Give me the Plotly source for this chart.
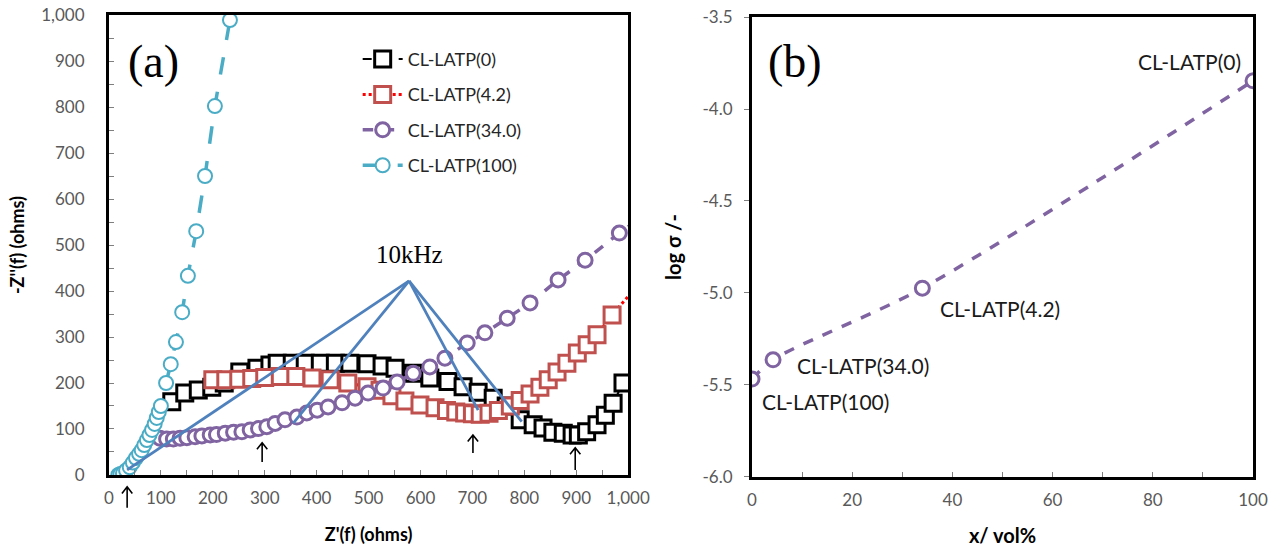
import plotly.graph_objects as go

# ---- (a) Nyquist plots: Z'(f) vs -Z''(f), ohms ----
z0_re = [121, 146, 172, 198, 222, 252, 285, 310, 324, 353, 378, 407, 436, 464, 497, 526,
         551, 586, 618, 653, 682, 711, 740, 765, 792, 817, 836, 855, 875, 892, 904, 920,
         940, 956, 971, 990]
z0_im = [159, 178, 185, 191, 200, 224, 232, 239, 243, 243, 243, 243, 243, 243, 242, 237,
         232, 221, 211, 203, 192, 180, 167, 150, 120, 109, 102, 93, 91, 87, 87, 94,
         109, 130, 156, 200]

z42_re = [200, 225, 250, 275, 300, 330, 360, 391, 426, 460, 497, 522, 545, 570, 599, 628,
          650, 668, 685, 700, 715, 732, 750, 773, 792, 811, 830, 846, 863, 882, 902, 921,
          940, 969, 1040]
z42_im = [207, 207, 208, 210, 212, 214, 214, 211, 207, 200, 192, 184, 172, 161, 152, 146,
          140, 137, 135, 133, 132, 134, 140, 150, 162, 176, 191, 207, 224, 243, 265, 283,
          305, 348, 440]

z34_re = [98, 111, 124, 137, 150, 166, 179, 195, 207, 224, 240, 256, 272, 288, 304, 320,
          339, 362, 381, 401, 422, 449, 474, 499, 528, 555, 586, 618, 647, 690, 724, 767,
          811, 865, 917, 983, 1050]
z34_im = [80, 78, 78, 80, 81, 83, 85, 87, 88, 91, 93, 94, 98, 101, 105, 112,
          120, 126, 135, 141, 148, 157, 167, 178, 189, 202, 221, 235, 254, 287, 309, 341,
          374, 424, 467, 526, 580]

z100_re = [18, 22, 27, 33, 40, 46, 52, 58, 63, 68, 73, 78, 83, 88, 92, 96, 100, 110, 119,
           129, 141, 152, 168, 185, 204, 233]
z100_im = [0, 2, 4, 10, 17, 27, 37, 46, 54, 65, 76, 87, 98, 111, 124, 137, 150, 200, 241,
           289, 354, 433, 530, 650, 802, 989]

# 10 kHz guide lines: common apex and the four end points
khz_apex = (578, 422)
khz_ends_re = [35, 355, 711, 795]
khz_ends_im = [11, 113, 141, 116]

# arrows marking characteristic points (Z' position, tip and tail heights)
arrow_re = [295, 701, 898]
arrow_tip = [70, 87, 59]
arrow_tail = [28, 48, 11]
# arrow under the origin sits below the axis, in figure fractions
origin_arrow_re = 35
origin_arrow_tip = 0.118
origin_arrow_tail = 0.080

# ---- (b) conductivity vs LATP content ----
vol_x = [0, 4.2, 34.0, 100]
log_sigma = [-5.468, -5.363, -4.974, -3.847]
point_names = ["CL-LATP(100)", "CL-LATP(34.0)", "CL-LATP(4.2)", "CL-LATP(0)"]

# tick labels
z_ticks = [0, 100, 200, 300, 400, 500, 600, 700, 800, 900, 1000]
vol_ticks = [0, 20, 40, 60, 80, 100]
sigma_ticks = [-6.0, -5.5, -5.0, -4.5, -4.0, -3.5]
sigma_ticktext = ["-6.0", "-5.5", "-5.0", "-4.5", "-4.0", "-3.5"]

BLACK = "#000000"
RED = "#C0504D"
PURPLE = "#8064A2"
CYAN = "#4BACC6"
BLUE = "#4F81BD"
TICK = "#595959"
SANS = "Lato"
SERIF = "Liberation Serif"

fig = go.Figure()

fig.add_trace(go.Scatter(
    x=z0_re, y=z0_im, name="CL-LATP(0)", mode="lines+markers",
    line=dict(color=BLACK, width=2, dash="dash"),
    marker=dict(symbol="square", size=16, color="white", line=dict(color=BLACK, width=3)),
    legendgroup="a", xaxis="x", yaxis="y"))
fig.add_trace(go.Scatter(
    x=z42_re, y=z42_im, name="CL-LATP(4.2)", mode="lines+markers",
    line=dict(color="#FF0000", width=3, dash="dot"),
    marker=dict(symbol="square", size=16, color="white", line=dict(color=RED, width=3)),
    legendgroup="b", xaxis="x", yaxis="y"))
fig.add_trace(go.Scatter(
    x=z34_re, y=z34_im, name="CL-LATP(34.0)", mode="lines+markers",
    line=dict(color=PURPLE, width=3.5, dash="dash"),
    marker=dict(symbol="circle", size=14, color="white", line=dict(color=PURPLE, width=3)),
    legendgroup="c", xaxis="x", yaxis="y"))
fig.add_trace(go.Scatter(
    x=z100_re, y=z100_im, name="CL-LATP(100)", mode="lines+markers",
    line=dict(color=CYAN, width=3.5, dash="longdash"),
    marker=dict(symbol="circle", size=14, color="white", line=dict(color=CYAN, width=2)),
    legendgroup="d", xaxis="x", yaxis="y"))

for ex, ey in zip(khz_ends_re, khz_ends_im):
    fig.add_trace(go.Scatter(
        x=[khz_apex[0], ex], y=[khz_apex[1], ey], mode="lines",
        line=dict(color=BLUE, width=2.8), showlegend=False, hoverinfo="skip",
        xaxis="x", yaxis="y"))

fig.add_trace(go.Scatter(
    x=vol_x, y=log_sigma, mode="lines+markers", showlegend=False,
    line=dict(color=PURPLE, width=3.5, dash="dash", shape="spline", smoothing=0.8),
    marker=dict(symbol="circle", size=14, color="white", line=dict(color=PURPLE, width=3)),
    xaxis="x2", yaxis="y2"))

# open-headed arrows drawn as line paths
HX, HY = 10.0, 14.0
shapes = []
for xa, yt, yb in zip(arrow_re, arrow_tip, arrow_tail):
    shapes.append(dict(type="path", xref="x", yref="y",
                       path=f"M {xa},{yb} L {xa},{yt} M {xa-HX},{yt-HY} L {xa},{yt} L {xa+HX},{yt-HY}",
                       line=dict(color="black", width=1.6)))
hp = 0.012
xa = origin_arrow_re
shapes.append(dict(type="path", xref="x", yref="paper",
                   path=(f"M {xa},{origin_arrow_tail} L {xa},{origin_arrow_tip} "
                         f"M {xa-HX},{origin_arrow_tip-hp} L {xa},{origin_arrow_tip} "
                         f"L {xa+HX},{origin_arrow_tip-hp}"),
                   line=dict(color="black", width=1.6)))

ann = []
ann.append(dict(text="(a)", x=0.1195, y=0.888, xref="paper", yref="paper", showarrow=False,
                xanchor="center", yanchor="middle",
                font=dict(family=SERIF, size=46, color="black")))
ann.append(dict(text="(b)", x=0.620, y=0.888, xref="paper", yref="paper", showarrow=False,
                xanchor="center", yanchor="middle",
                font=dict(family=SERIF, size=46, color="black")))
ann.append(dict(text="10kHz", x=khz_apex[0], y=khz_apex[1], xref="x", yref="y",
                yshift=26, showarrow=False, font=dict(family=SERIF, size=25, color="black")))

label_pos = [
    dict(xanchor="left", yanchor="top", xshift=8, yshift=-8),
    dict(xanchor="left", yanchor="middle", xshift=22, yshift=-6),
    dict(xanchor="left", yanchor="middle", xshift=16, yshift=-20),
    dict(xanchor="right", yanchor="bottom", xshift=-10, yshift=5),
]
for nm, vx, vy, p in zip(point_names, vol_x, log_sigma, label_pos):
    ann.append(dict(text=nm, x=vx, y=vy, xref="x2", yref="y2", showarrow=False,
                    font=dict(family=SANS, size=21, color="#1a1a1a"), **p))

axis_common = dict(showline=True, linecolor="black", linewidth=3, mirror=True,
                   showgrid=False, zeroline=False, automargin=False,
                   tickfont=dict(family=SANS, size=17, color=TICK))

fig.update_layout(
    width=1282, height=552,
    margin=dict(l=0, r=0, t=0, b=0, autoexpand=False),
    paper_bgcolor="white", plot_bgcolor="white",
    showlegend=True,
    legend=dict(x=0.279, y=0.926, xanchor="left", yanchor="top",
                font=dict(family=SANS, size=18, color="#262626"),
                bgcolor="rgba(0,0,0,0)", tracegroupgap=9, itemwidth=40),
    xaxis=dict(domain=[0.085, 0.490], range=[0, 1000], anchor="y",
               tickvals=z_ticks, tickformat=",d", ticks="inside", ticklen=5,
               tickcolor="#7f7f7f",
               minor=dict(dtick=50, ticks="inside", ticklen=5, tickcolor="#7f7f7f"),
               title=dict(text="<b>Z'(f) (ohms)</b>", standoff=22,
                          font=dict(family=SANS, size=18, color="black")),
               ticklabelstandoff=6, **axis_common),
    yaxis=dict(domain=[0.1395, 0.9728], range=[0, 1000], anchor="x",
               tickvals=z_ticks, tickformat=",d", ticks="inside", ticklen=5,
               tickcolor="#7f7f7f",
               minor=dict(dtick=50, ticks="inside", ticklen=5, tickcolor="#7f7f7f"),
               title=dict(text="<b>-Z''(f) (ohms)</b>", standoff=12,
                          font=dict(family=SANS, size=18, color="black")),
               ticklabelstandoff=18, **axis_common),
    xaxis2=dict(domain=[0.5866, 0.9774], range=[0, 100], anchor="y2",
                tickvals=vol_ticks, ticks="inside", ticklen=5,
                tickcolor="#7f7f7f",
                minor=dict(dtick=10, ticks="inside", ticklen=5, tickcolor="#7f7f7f"),
                title=dict(text="<b>x/ vol%</b>", standoff=20,
                           font=dict(family=SANS, size=20, color="black")),
                ticklabelstandoff=6, **axis_common),
    yaxis2=dict(domain=[0.1359, 0.9692], range=[-6.0, -3.5], anchor="x2",
                tickvals=sigma_ticks, ticktext=sigma_ticktext,
                ticks="outside", ticklen=5, tickcolor="#7f7f7f",
                title=dict(text="<b>log σ /-</b>", standoff=16,
                           font=dict(family=SANS, size=20, color="black")),
                ticklabelstandoff=8, **axis_common),
    shapes=shapes,
    annotations=ann,
)

fig.write_html("out.html")
